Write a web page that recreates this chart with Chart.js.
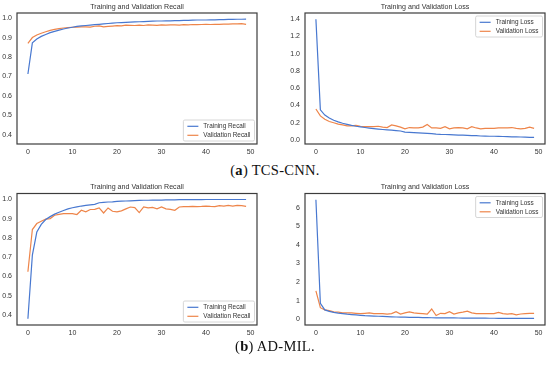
<!DOCTYPE html>
<html>
<head>
<meta charset="utf-8">
<script src="https://cdn.jsdelivr.net/npm/chart.js@4/dist/chart.umd.min.js"></script>
<style>
  html, body { margin: 0; padding: 0; background: #fff; }
  body { width: 550px; height: 365px; position: relative; overflow: hidden; }
  .box { position: absolute; width: 275px; height: 160px; }
  .cap { position: absolute; left: 0; width: 550px; text-align: center;
         font-family: "Liberation Serif", "DejaVu Serif", serif; font-size: 14.5px;
         letter-spacing: 0.3px; color: #111; line-height: 16px; }
</style>
</head>
<body>
<div class="box" style="left:0;top:0"><canvas id="c1" width="275" height="160"></canvas></div>
<div class="box" style="left:275px;top:0"><canvas id="c2" width="275" height="160"></canvas></div>
<div class="cap" style="top:162px">(<b>a</b>) TCS-CNN.</div>
<div class="box" style="left:0;top:181px"><canvas id="c3" width="275" height="160"></canvas></div>
<div class="box" style="left:275px;top:181px"><canvas id="c4" width="275" height="160"></canvas></div>
<div class="cap" style="top:338px">(<b>b</b>) AD-MIL.</div>
<script>
// ---------- data ----------
const epochs = Array.from({length: 50}, (_, i) => i);
const xTicks = [0, 10, 20, 30, 40, 50];
const recallTicks = [0.4, 0.5, 0.6, 0.7, 0.8, 0.9, 1.0];
const tcsLossTicks = [0.0, 0.2, 0.4, 0.6, 0.8, 1.0, 1.2, 1.4];
const milLossTicks = [0, 1, 2, 3, 4, 5, 6];

const tcsTrainRecall = [0.713,0.873,0.893,0.906,0.916,0.925,0.932,0.938,0.944,0.949,
  0.953,0.957,0.960,0.962,0.964,0.966,0.968,0.970,0.972,0.974,
  0.976,0.977,0.978,0.979,0.980,0.981,0.982,0.983,0.984,0.985,
  0.985,0.986,0.986,0.987,0.987,0.988,0.988,0.989,0.990,0.990,
  0.990,0.991,0.991,0.992,0.992,0.993,0.993,0.994,0.994,0.995];
const tcsValRecall = [0.870,0.900,0.913,0.922,0.930,0.937,0.942,0.946,0.949,0.951,
  0.953,0.954,0.955,0.955,0.954,0.958,0.960,0.955,0.957,0.959,
  0.961,0.960,0.964,0.963,0.962,0.964,0.962,0.965,0.964,0.963,
  0.965,0.964,0.965,0.965,0.964,0.966,0.965,0.967,0.966,0.967,
  0.968,0.967,0.968,0.968,0.969,0.969,0.970,0.970,0.971,0.968];
const tcsTrainLoss = [1.40,0.35,0.29,0.255,0.23,0.21,0.195,0.182,0.17,0.16,
  0.152,0.145,0.138,0.132,0.127,0.122,0.118,0.114,0.11,0.105,
  0.092,0.088,0.085,0.082,0.08,0.078,0.074,0.068,0.065,0.064,
  0.062,0.06,0.058,0.056,0.053,0.051,0.05,0.047,0.045,0.044,
  0.044,0.043,0.041,0.039,0.037,0.036,0.035,0.033,0.031,0.03];
const tcsValLoss = [0.36,0.28,0.24,0.215,0.2,0.185,0.175,0.165,0.165,0.17,
  0.16,0.155,0.155,0.155,0.16,0.15,0.145,0.175,0.165,0.15,
  0.13,0.145,0.14,0.14,0.15,0.18,0.14,0.14,0.135,0.155,
  0.13,0.14,0.145,0.14,0.13,0.155,0.14,0.13,0.135,0.135,
  0.135,0.14,0.14,0.14,0.145,0.135,0.13,0.135,0.15,0.135];
const milTrainRecall = [0.38,0.71,0.83,0.87,0.895,0.91,0.923,0.933,0.942,0.95,
  0.956,0.961,0.965,0.968,0.971,0.974,0.982,0.984,0.986,0.987,
  0.989,0.990,0.991,0.992,0.993,0.994,0.995,0.995,0.996,0.996,
  0.996,0.997,0.997,0.997,0.998,0.998,0.998,0.998,0.998,0.998,
  0.999,0.999,0.999,0.999,0.999,0.999,0.999,0.999,0.999,0.999];
const milValRecall = [0.624,0.843,0.874,0.886,0.897,0.90,0.917,0.922,0.926,0.926,
  0.926,0.921,0.943,0.935,0.947,0.948,0.955,0.929,0.955,0.938,
  0.935,0.94,0.95,0.96,0.957,0.931,0.96,0.955,0.958,0.95,
  0.96,0.95,0.948,0.943,0.96,0.962,0.962,0.963,0.962,0.963,
  0.965,0.963,0.962,0.967,0.965,0.968,0.965,0.968,0.967,0.963];
const milTrainLoss = [6.42,0.86,0.5,0.42,0.37,0.33,0.3,0.27,0.25,0.23,
  0.21,0.19,0.18,0.17,0.16,0.15,0.14,0.13,0.12,0.115,
  0.11,0.105,0.1,0.095,0.09,0.085,0.08,0.078,0.075,0.072,
  0.07,0.068,0.066,0.064,0.062,0.06,0.058,0.056,0.055,0.054,
  0.052,0.05,0.049,0.048,0.047,0.046,0.045,0.044,0.043,0.042];
const milValLoss = [1.52,0.62,0.5,0.46,0.4,0.38,0.34,0.34,0.34,0.32,
  0.3,0.32,0.34,0.3,0.3,0.3,0.28,0.3,0.41,0.28,
  0.34,0.4,0.34,0.32,0.3,0.28,0.55,0.2,0.32,0.3,
  0.41,0.28,0.34,0.38,0.43,0.34,0.3,0.3,0.3,0.3,
  0.3,0.37,0.3,0.28,0.3,0.24,0.28,0.3,0.32,0.32];

// ---------- style ----------
const BLUE = '#4878D0', ORANGE = '#EE854A';
const SANS = '"Liberation Sans", Arial, sans-serif';
const TXT = '#333333';

const framePlugin = {
  id: 'frameAndTitle',
  afterDraw(chart, args, opts) {
    const {ctx, chartArea: a} = chart;
    ctx.save();
    ctx.strokeStyle = '#3c3c3c';
    ctx.lineWidth = 1.2;
    ctx.strokeRect(a.left, a.top, a.right - a.left, a.bottom - a.top);
    ctx.fillStyle = TXT;
    ctx.font = '7.1px ' + SANS;
    ctx.textAlign = 'center';
    ctx.textBaseline = 'middle';
    ctx.fillText(opts.text, (a.left + a.right) / 2, a.top - 6);
    ctx.restore();
  }
};

const legendPlugin = {
  id: 'cornerLegend',
  afterDatasetsDraw(chart, args, opts) {
    const {ctx, chartArea: a} = chart;
    const ds = chart.data.datasets;
    ctx.save();
    ctx.font = '6.4px ' + SANS;
    const pad = 4, lineLen = 11, gap = 5, rowH = 9;
    let tw = 0;
    ds.forEach(d => { tw = Math.max(tw, ctx.measureText(d.label).width); });
    const w = pad + lineLen + gap + tw + pad;
    const h = 3 + rowH * ds.length + 0;
    const x = a.right - 2.5 - w;
    const y = opts.pos === 'lr' ? a.bottom - 3 - h : a.top + 3;
    ctx.fillStyle = 'rgba(255,255,255,0.85)';
    ctx.strokeStyle = '#cccccc';
    ctx.lineWidth = 0.8;
    ctx.beginPath();
    if (ctx.roundRect) ctx.roundRect(x, y, w, h, 1.5); else ctx.rect(x, y, w, h);
    ctx.fill(); ctx.stroke();
    ds.forEach((d, i) => {
      const cy = y + 6.3 + i * rowH;
      ctx.strokeStyle = d.borderColor;
      ctx.lineWidth = 1.2;
      ctx.beginPath();
      ctx.moveTo(x + pad, cy); ctx.lineTo(x + pad + lineLen, cy);
      ctx.stroke();
      ctx.fillStyle = TXT;
      ctx.textAlign = 'left';
      ctx.textBaseline = 'middle';
      ctx.fillText(d.label, x + pad + lineLen + gap, cy);
    });
    ctx.restore();
  }
};

function makeChart(id, cfg) {
  const pts = arr => epochs.map((e, i) => ({x: e, y: arr[i]}));
  const tickFont = {family: SANS, size: 7};
  return new Chart(document.getElementById(id), {
    type: 'line',
    data: {
      datasets: [
        {label: cfg.labels[0], data: pts(cfg.train), borderColor: BLUE, borderWidth: 1.2,
         pointRadius: 0, tension: 0, fill: false},
        {label: cfg.labels[1], data: pts(cfg.val), borderColor: ORANGE, borderWidth: 1.2,
         pointRadius: 0, tension: 0, fill: false}
      ]
    },
    options: {
      responsive: false, animation: false, devicePixelRatio: 1,
      layout: {padding: {left: 0, right: cfg.right, top: cfg.top, bottom: 0}},
      plugins: {
        legend: {display: false}, title: {display: false}, tooltip: {enabled: false},
        frameAndTitle: {text: cfg.title},
        cornerLegend: {pos: cfg.legendPos}
      },
      scales: {
        x: {
          type: 'linear', min: -2.45, max: 51.45,
          afterBuildTicks: s => { s.ticks = xTicks.map(v => ({value: v})); },
          afterFit: s => { s.height = 16; },
          grid: {display: false, drawTicks: false}, border: {display: false},
          ticks: {font: tickFont, color: TXT, padding: 4, maxRotation: 0, autoSkip: false,
                  callback: v => String(v)}
        },
        y: {
          type: 'linear', min: cfg.ymin, max: cfg.ymax,
          afterBuildTicks: s => { s.ticks = cfg.yTicks.map(v => ({value: v})); },
          afterFit: s => { s.width = cfg.yw; },
          grid: {display: false, drawTicks: false}, border: {display: false},
          ticks: {font: tickFont, color: TXT, padding: 5, autoSkip: false,
                  callback: v => cfg.dec ? Number(v).toFixed(1) : String(Math.round(v))}
        }
      }
    },
    plugins: [framePlugin, legendPlugin]
  });
}

makeChart('c1', {title: 'Training and Validation Recall', labels: ['Training Recall', 'Validation Recall'],
  train: tcsTrainRecall, val: tcsValRecall, ymin: 0.354, ymax: 1.026, yTicks: recallTicks, dec: true,
  yw: 17, right: 18, top: 13, legendPos: 'lr'});
makeChart('c2', {title: 'Training and Validation Loss', labels: ['Training Loss', 'Validation Loss'],
  train: tcsTrainLoss, val: tcsValLoss, ymin: -0.046, ymax: 1.473, yTicks: tcsLossTicks, dec: true,
  yw: 30, right: 5, top: 13, legendPos: 'ur'});
makeChart('c3', {title: 'Training and Validation Recall', labels: ['Training Recall', 'Validation Recall'],
  train: milTrainRecall, val: milValRecall, ymin: 0.348, ymax: 1.030, yTicks: recallTicks, dec: true,
  yw: 17, right: 18, top: 12.5, legendPos: 'lr'});
makeChart('c4', {title: 'Training and Validation Loss', labels: ['Training Loss', 'Validation Loss'],
  train: milTrainLoss, val: milValLoss, ymin: -0.31, ymax: 6.76, yTicks: milLossTicks, dec: false,
  yw: 30, right: 5, top: 12.5, legendPos: 'ur'});
</script>
</body>
</html>
